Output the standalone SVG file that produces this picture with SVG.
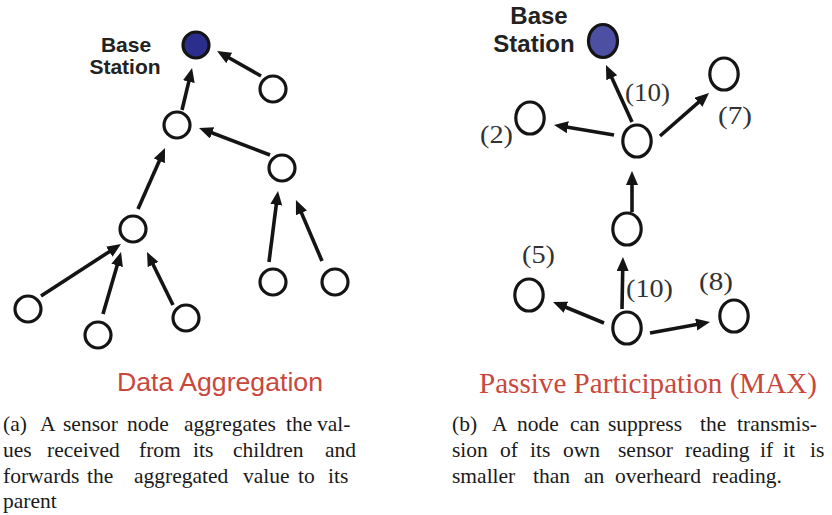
<svg xmlns="http://www.w3.org/2000/svg" width="832" height="515" viewBox="0 0 832 515">
<style>
.node{fill:#ffffff;stroke:#141414;stroke-width:3.2}
.base1{fill:#2b2e8c;stroke:#141414;stroke-width:3.2}
.base2{fill:#4d4fa3;stroke:#141414;stroke-width:3.2}
.edge{stroke:#141414;stroke-width:3.6;fill:none;marker-end:url(#ah)}
.bs{font-family:"Liberation Sans",Arial,sans-serif;font-weight:bold;fill:#222;text-anchor:middle}
.num{font-family:"Liberation Serif","Times New Roman",serif;font-size:26px;fill:#333}
.title1{font-family:"Liberation Sans",Arial,sans-serif;font-size:26px;fill:#c9473d}
.title2{font-family:"Liberation Serif","Times New Roman",serif;font-size:29px;fill:#c9473d}
.cap{font-family:"Liberation Serif","Times New Roman",serif;font-size:21.5px;fill:#1a1a1a}
</style>
<defs>
<marker id="ah" markerUnits="userSpaceOnUse" markerWidth="15" markerHeight="13" refX="6" refY="6" orient="auto">
<path d="M0,0 L14,6 L0,12 Z" fill="#141414"/>
</marker>
</defs>

<g id="connectors">
<line class="edge" x1="261" y1="76" x2="224" y2="55"/>
<line class="edge" x1="182" y1="110" x2="190.2" y2="75.8"/>
<line class="edge" x1="270" y1="155" x2="206.5" y2="130.8"/>
<line class="edge" x1="138" y1="209" x2="161.8" y2="155.3"/>
<line class="edge" x1="41" y1="296" x2="114.3" y2="248.4"/>
<line class="edge" x1="103" y1="314" x2="118.8" y2="259.7"/>
<line class="edge" x1="173" y1="305" x2="150.5" y2="259.2"/>
<line class="edge" x1="269" y1="262" x2="277" y2="198.9"/>
<line class="edge" x1="322" y1="261" x2="299.1" y2="207.4"/>

<line class="edge" x1="632" y1="122" x2="609.3" y2="72.3"/>
<line class="edge" x1="614" y1="135" x2="561.9" y2="126.3"/>
<line class="edge" x1="660" y1="136" x2="703" y2="98.3"/>
<line class="edge" x1="632" y1="212" x2="632" y2="179"/>
<line class="edge" x1="622" y1="309" x2="622.8" y2="265"/>
<line class="edge" x1="604" y1="323" x2="560.4" y2="305"/>
<line class="edge" x1="650" y1="333" x2="702.1" y2="323.4"/>
</g>

<g id="left-base"><circle class="base1" cx="196" cy="45" r="13"/>
<text class="bs" font-size="21" x="126" y="52">Base</text>
<text class="bs" font-size="21" x="125" y="74">Station</text></g>
<g id="left-n1"><circle class="node" cx="273" cy="89" r="13"/></g>
<g id="left-n2"><circle class="node" cx="177" cy="125" r="13"/></g>
<g id="left-n3"><circle class="node" cx="282" cy="168" r="13"/></g>
<g id="left-n4"><circle class="node" cx="133" cy="229" r="13"/></g>
<g id="left-n5"><circle class="node" cx="28" cy="309" r="13"/></g>
<g id="left-n6"><circle class="node" cx="98" cy="335" r="13"/></g>
<g id="left-n7"><circle class="node" cx="186" cy="318" r="13"/></g>
<g id="left-n8"><circle class="node" cx="273" cy="282" r="13"/></g>
<g id="left-n9"><circle class="node" cx="335" cy="282" r="13"/></g>

<g id="right-base"><ellipse class="base2" cx="603" cy="41" rx="14.5" ry="16.5"/>
<text class="bs" font-size="24" x="539" y="24">Base</text>
<text class="bs" font-size="24" x="534" y="52">Station</text></g>
<g id="right-c"><ellipse class="node" cx="637" cy="141" rx="14.2" ry="16"/>
<text class="num" x="625" y="101" textLength="45" lengthAdjust="spacingAndGlyphs">(10)</text></g>
<g id="right-2"><ellipse class="node" cx="530" cy="118" rx="14.2" ry="16"/>
<text class="num" x="480" y="143" textLength="33" lengthAdjust="spacingAndGlyphs">(2)</text></g>
<g id="right-7"><ellipse class="node" cx="724" cy="74" rx="14.2" ry="16"/>
<text class="num" x="718" y="124" textLength="34" lengthAdjust="spacingAndGlyphs">(7)</text></g>
<g id="right-m"><ellipse class="node" cx="627" cy="229" rx="14.2" ry="16"/></g>
<g id="right-5"><ellipse class="node" cx="529" cy="295" rx="14.2" ry="16"/>
<text class="num" x="522" y="263" textLength="33" lengthAdjust="spacingAndGlyphs">(5)</text></g>
<g id="right-b"><ellipse class="node" cx="627" cy="328" rx="14.2" ry="16"/>
<text class="num" x="626" y="297" textLength="47" lengthAdjust="spacingAndGlyphs">(10)</text></g>
<g id="right-8"><ellipse class="node" cx="734" cy="316" rx="14.2" ry="16"/>
<text class="num" x="699" y="290" textLength="34" lengthAdjust="spacingAndGlyphs">(8)</text></g>

<g id="titles">
<text class="title1" x="117" y="391" textLength="206" lengthAdjust="spacingAndGlyphs">Data Aggregation</text>
<text class="title2" x="479" y="393" textLength="338" lengthAdjust="spacingAndGlyphs">Passive Participation (MAX)</text>
</g>

<g id="caption-a" class="cap">
<text y="431"><tspan x="3">(a)</tspan><tspan x="40">A</tspan><tspan x="63">sensor</tspan><tspan x="127">node</tspan><tspan x="184">aggregates</tspan><tspan x="286">the</tspan><tspan x="317">val-</tspan></text>
<text y="457"><tspan x="3">ues</tspan><tspan x="47">received</tspan><tspan x="139">from</tspan><tspan x="193">its</tspan><tspan x="233">children</tspan><tspan x="325">and</tspan></text>
<text y="483"><tspan x="3">forwards</tspan><tspan x="87">the</tspan><tspan x="134">aggregated</tspan><tspan x="243">value</tspan><tspan x="298">to</tspan><tspan x="328">its</tspan></text>
<text y="508"><tspan x="3">parent</tspan></text>
</g>

<g id="caption-b" class="cap">
<text y="431"><tspan x="452">(b)</tspan><tspan x="492">A</tspan><tspan x="517">node</tspan><tspan x="570">can</tspan><tspan x="608">suppress</tspan><tspan x="700">the</tspan><tspan x="737">transmis-</tspan></text>
<text y="457"><tspan x="452">sion</tspan><tspan x="500">of</tspan><tspan x="530">its</tspan><tspan x="563">own</tspan><tspan x="618">sensor</tspan><tspan x="685">reading</tspan><tspan x="760">if</tspan><tspan x="783">it</tspan><tspan x="810">is</tspan></text>
<text y="483"><tspan x="452">smaller</tspan><tspan x="533">than</tspan><tspan x="584">an</tspan><tspan x="615">overheard</tspan><tspan x="712">reading.</tspan></text>
</g>
</svg>
